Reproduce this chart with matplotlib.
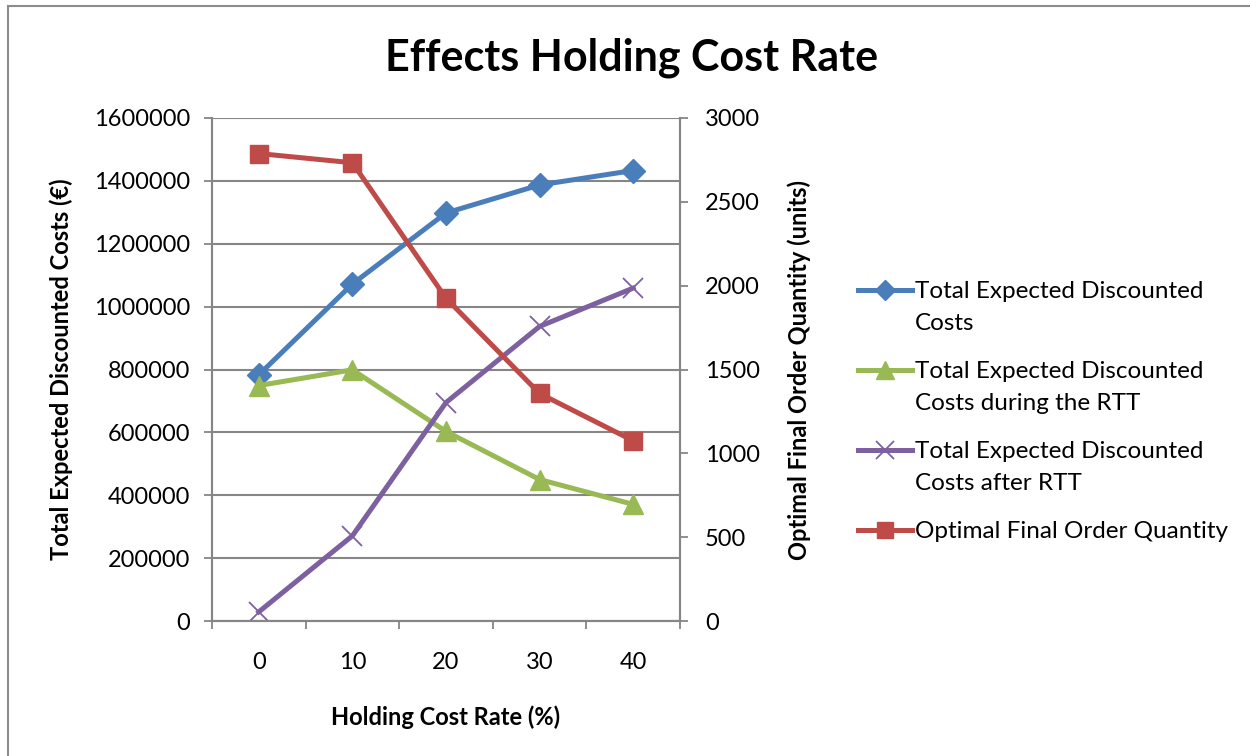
import matplotlib
matplotlib.use("Agg")
import matplotlib.pyplot as plt
from matplotlib.lines import Line2D

plt.rcParams['font.family'] = ['Lato', 'DejaVu Sans']

categories = ["0", "10", "20", "30", "40"]
total_costs = [783000, 1072000, 1298000, 1387000, 1433000]
costs_during_rtt = [749000, 799000, 603000, 450000, 371000]
costs_after_rtt = [29000, 271000, 695000, 937000, 1059000]
final_order_qty = [2788, 2733, 1925, 1357, 1075]

left_ticks = [0, 200000, 400000, 600000, 800000, 1000000, 1200000, 1400000, 1600000]
right_ticks = [0, 500, 1000, 1500, 2000, 2500, 3000]

legend_labels = [
    ["Total Expected Discounted", "Costs"],
    ["Total Expected Discounted", "Costs during the RTT"],
    ["Total Expected Discounted", "Costs after RTT"],
    ["Optimal Final Order Quantity"],
]

BLUE = "#4A7EBB"
RED = "#BE4B48"
GREEN = "#98B954"
PURPLE = "#7D60A0"
GRID = "#868686"

fig = plt.figure(figsize=(12.5, 7.56), dpi=100)
ax = fig.add_axes([212/1250, 1-621/756, (680-212)/1250, (621-118)/756])
ax2 = ax.twinx()

x = list(range(len(categories)))
lw = 3.6
styles = [
    dict(color=BLUE, marker='D', ms=12),
    dict(color=GREEN, marker='^', ms=15),
    dict(color=PURPLE, marker='x', ms=15, mew=1.3),
    dict(color=RED, marker='s', ms=13),
]
ax.plot(x, total_costs, lw=lw, zorder=3, **styles[0])
ax.plot(x, costs_during_rtt, lw=lw, zorder=3, **styles[1])
ax.plot(x, costs_after_rtt, lw=lw, zorder=3, **styles[2])
ax2.plot(x, final_order_qty, lw=lw, zorder=3, **styles[3])

ax.set_xlim(-0.5, len(categories) - 0.5)
ax.set_ylim(0, 1600000)
ax2.set_ylim(0, 3000)
ax.set_yticks(left_ticks)
ax.set_yticklabels([str(v) for v in left_ticks])
ax2.set_yticks(right_ticks)
ax2.set_yticklabels([str(v) for v in right_ticks])

ax.set_xticks(x)
ax.set_xticklabels(categories)
ax.set_xticks([i - 0.5 for i in range(len(categories) + 1)], minor=True)
ax.tick_params(axis='x', which='major', length=0, labelsize=17, pad=22)
ax.tick_params(axis='x', which='minor', length=6, width=1.3, color=GRID, direction='out')
ax.tick_params(axis='y', length=6, width=1.3, color=GRID, labelsize=17, pad=10)
ax2.tick_params(axis='y', length=6, width=1.3, color=GRID, labelsize=17, pad=12)

ax.grid(axis='y', color=GRID, lw=1.5)
ax.set_axisbelow(True)
for a in (ax, ax2):
    a.spines['top'].set_visible(False)
    for s in ('left', 'right', 'bottom'):
        a.spines[s].set_color(GRID)
        a.spines[s].set_linewidth(1.5)

ax.set_ylabel("Total Expected Discounted Costs (€)", fontsize=17, fontweight='bold', labelpad=15)
ax2.set_ylabel("Optimal Final Order Quantity (units)", fontsize=17, fontweight='bold', labelpad=20)
ax.set_xlabel("Holding Cost Rate (%)", fontsize=17, fontweight='bold', labelpad=24)

fig.text(632/1250, 1-58/756, "Effects Holding Cost Rate", ha='center', va='center',
         fontsize=31, fontweight='bold')

# legend drawn manually so the handle aligns with the first text line
legend_top = [290, 370, 450, 530]
for st, lines, ytop in zip(styles, legend_labels, legend_top):
    yf = 1 - ytop/756
    fig.add_artist(Line2D([858/1250, 912/1250], [yf, yf], transform=fig.transFigure,
                          lw=lw, color=st['color']))
    fig.add_artist(Line2D([885/1250], [yf], transform=fig.transFigure, lw=0,
                          marker=st['marker'], ms=st['ms']*0.85, color=st['color'],
                          mew=st.get('mew', 1.0)))
    for k, line in enumerate(lines):
        fig.text(915/1250, 1 - (ytop + 32*k)/756, line, ha='left', va='center_baseline',
                 fontsize=17.5)

# chart border (left and top edges visible)
fig.add_artist(Line2D([8/1250, 8/1250], [0, 1-6/756], transform=fig.transFigure, color="#8C8C8C", lw=1.5))
fig.add_artist(Line2D([8/1250, 1], [1-6/756, 1-6/756], transform=fig.transFigure, color="#8C8C8C", lw=1.5))

fig.savefig("out.png", dpi=100)
